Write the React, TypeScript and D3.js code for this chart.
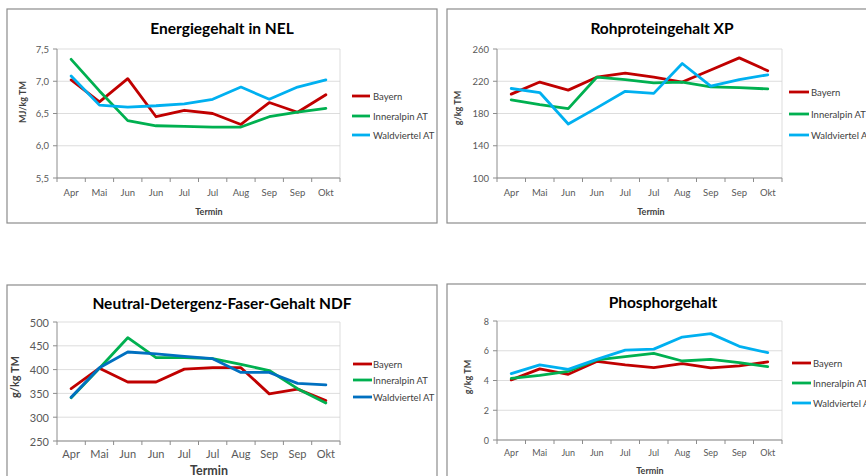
import React from "react";
import * as d3 from "d3";

// ==========================
// Data
// ==========================
const termine = ["Apr", "Mai", "Jun", "Jun", "Jul", "Jul", "Aug", "Sep", "Sep", "Okt"];
const seriesNames = ["Bayern", "Inneralpin AT", "Waldviertel AT"];

const nelBayern = [7.02, 6.68, 7.04, 6.45, 6.55, 6.5, 6.33, 6.67, 6.52, 6.79];
const nelInneralpin = [7.34, 6.85, 6.39, 6.31, 6.3, 6.29, 6.29, 6.45, 6.52, 6.58];
const nelWaldviertel = [7.08, 6.63, 6.6, 6.62, 6.65, 6.72, 6.91, 6.72, 6.91, 7.02];

const xpBayern = [204, 219, 209, 225, 230, 225, 219, 234, 249, 233];
const xpInneralpin = [197, 191, 186, 225, 222, 218, 219, 213, 212, 210.5];
const xpWaldviertel = [211, 206, 167, 187, 207.5, 205, 242, 214, 222, 228];

const ndfBayern = [360, 403, 374, 374, 401, 404, 404, 349, 359, 335];
const ndfInneralpin = [341, 403, 467, 425, 425, 423, 411, 398, 360, 330];
const ndfWaldviertel = [342, 404, 437, 433, 428, 423, 394, 394, 371, 368];

const pBayern = [4.04, 4.78, 4.42, 5.28, 5.05, 4.87, 5.14, 4.85, 4.98, 5.25];
const pInneralpin = [4.15, 4.35, 4.62, 5.38, 5.6, 5.83, 5.31, 5.42, 5.2, 4.93];
const pWaldviertel = [4.46, 5.05, 4.75, 5.42, 6.04, 6.11, 6.92, 7.15, 6.3, 5.87];

const nelTicks = [5.5, 6.0, 6.5, 7.0, 7.5];
const xpTicks = [100, 140, 180, 220, 260];
const ndfTicks = [250, 300, 350, 400, 450, 500];
const pTicks = [0, 2, 4, 6, 8];

const FONT = "Lato, 'Open Sans', sans-serif";
const RED = "#c00000";
const GREEN = "#00b050";
const LIGHTBLUE = "#00b0f0";
const DARKBLUE = "#0070c0";

type PanelProps = {
  title: string;
  yLabel: string;
  series: number[][];
  colors: string[];
  ticks: number[];
  comma?: boolean;
  box: { x: number; y: number; w: number; h: number };
  plot: { l: number; r: number; t: number; b: number };
  titlePos: [number, number];
  tickSize: number;
  xLabelY: number;
  termin: [number, number, number];
  yLabelPos: [number, number, number];
  legend: { x1: number; x2: number; tx: number; rows: number[] };
};

function Panel(p: PanelProps) {
  const { plot } = p;
  const x = d3.scaleBand<number>()
    .domain(termine.map((_, i) => i))
    .range([plot.l, plot.r]);
  const y = d3.scaleLinear()
    .domain([p.ticks[0], p.ticks[p.ticks.length - 1]])
    .range([plot.b, plot.t]);
  const fmt = (v: number) => (p.comma ? d3.format(".1f")(v).replace(".", ",") : String(v));
  const line = d3.line<number>()
    .x((_, i) => x(i)! + x.bandwidth() / 2)
    .y(v => y(v));

  return (
    <g>
      <rect x={p.box.x} y={p.box.y} width={p.box.w} height={p.box.h}
        fill="#fff" stroke="#8c8c8c" strokeWidth={1.2} />

      {/* grid */}
      {p.ticks.map(t => (
        <line key={t} x1={plot.l} x2={plot.r} y1={y(t)} y2={y(t)}
          stroke="#d4d4d4" strokeWidth={0.8} />
      ))}
      <line x1={plot.r} x2={plot.r} y1={plot.t} y2={plot.b} stroke="#d4d4d4" strokeWidth={0.8} />

      {/* axes */}
      <line x1={plot.l} x2={plot.l} y1={plot.t} y2={plot.b} stroke="#8c8c8c" />
      <line x1={plot.l} x2={plot.r} y1={plot.b} y2={plot.b} stroke="#8c8c8c" />
      {p.ticks.map(t => (
        <g key={"yt" + t}>
          <line x1={plot.l - 4} x2={plot.l} y1={y(t)} y2={y(t)} stroke="#8c8c8c" />
          <text x={plot.l - 8} y={y(t)} textAnchor="end" dominantBaseline="central"
            fontSize={p.tickSize} fill="#595959">{fmt(t)}</text>
        </g>
      ))}
      {termine.map((m, i) => (
        <g key={"xt" + i}>
          <line x1={x(i)!} x2={x(i)!} y1={plot.b} y2={plot.b + 4} stroke="#8c8c8c" />
          <text x={x(i)! + x.bandwidth() / 2} y={p.xLabelY} textAnchor="middle"
            dominantBaseline="central" fontSize={p.tickSize} fill="#595959">{m}</text>
        </g>
      ))}
      <line x1={plot.r} x2={plot.r} y1={plot.b} y2={plot.b + 4} stroke="#8c8c8c" />

      {/* series */}
      {p.series.map((s, k) => (
        <path key={k} d={line(s)!} fill="none" stroke={p.colors[k]} strokeWidth={2.8}
          strokeLinejoin="round" strokeLinecap="round" />
      ))}

      {/* titles */}
      <text x={p.titlePos[0]} y={p.titlePos[1]} textAnchor="middle" dominantBaseline="central"
        fontSize={15.5} fontWeight="bold" fill="#000">{p.title}</text>
      <text x={p.termin[0]} y={p.termin[1]} textAnchor="middle" dominantBaseline="central"
        fontSize={p.termin[2]} fontWeight="bold" fill="#404040">Termin</text>
      <text transform={`translate(${p.yLabelPos[0]},${p.yLabelPos[1]}) rotate(-90)`}
        textAnchor="middle" dominantBaseline="central" fontSize={p.yLabelPos[2]}
        fontWeight="bold" fill="#404040">{p.yLabel}</text>

      {/* legend */}
      {seriesNames.map((n, k) => (
        <g key={n}>
          <line x1={p.legend.x1} x2={p.legend.x2} y1={p.legend.rows[k]} y2={p.legend.rows[k]}
            stroke={p.colors[k]} strokeWidth={2.8} />
          <text x={p.legend.tx} y={p.legend.rows[k]} dominantBaseline="central"
            fontSize={9.5} fill="#404040">{n}</text>
        </g>
      ))}
    </g>
  );
}

export default function App() {
  return (
    <svg width={866} height={476} style={{ position: "absolute", left: 0, top: 0, fontFamily: FONT }}>
      <rect width={866} height={476} fill="#fff" />
      <Panel
        title="Energiegehalt in NEL"
        yLabel="MJ/kg TM"
        series={[nelBayern, nelInneralpin, nelWaldviertel]}
        colors={[RED, GREEN, LIGHTBLUE]}
        ticks={nelTicks}
        comma
        box={{ x: 7, y: 9, w: 430, h: 214 }}
        plot={{ l: 57, r: 340, t: 49, b: 178 }}
        titlePos={[222, 28]}
        tickSize={9.5}
        xLabelY={192}
        termin={[209, 211, 9]}
        yLabelPos={[22, 102, 9]}
        legend={{ x1: 352, x2: 370, tx: 373, rows: [96, 116, 135] }}
      />
      <Panel
        title="Rohproteingehalt XP"
        yLabel="g/kg TM"
        series={[xpBayern, xpInneralpin, xpWaldviertel]}
        colors={[RED, GREEN, LIGHTBLUE]}
        ticks={xpTicks}
        box={{ x: 447, y: 9, w: 440, h: 214 }}
        plot={{ l: 497, r: 782, t: 49, b: 178 }}
        titlePos={[662, 28]}
        tickSize={9.5}
        xLabelY={192}
        termin={[651, 211, 9]}
        yLabelPos={[457, 108, 9]}
        legend={{ x1: 789, x2: 809, tx: 811, rows: [92, 114, 135] }}
      />
      <Panel
        title="Neutral-Detergenz-Faser-Gehalt NDF"
        yLabel="g/kg TM"
        series={[ndfBayern, ndfInneralpin, ndfWaldviertel]}
        colors={[RED, GREEN, DARKBLUE]}
        ticks={ndfTicks}
        box={{ x: 7, y: 285, w: 430, h: 210 }}
        plot={{ l: 57, r: 340, t: 322, b: 441 }}
        titlePos={[222, 303]}
        tickSize={11}
        xLabelY={453}
        termin={[209, 470, 12.5]}
        yLabelPos={[14, 377, 11]}
        legend={{ x1: 353, x2: 372, tx: 373, rows: [364, 380, 397] }}
      />
      <Panel
        title="Phosphorgehalt"
        yLabel="g/kg TM"
        series={[pBayern, pInneralpin, pWaldviertel]}
        colors={[RED, GREEN, LIGHTBLUE]}
        ticks={pTicks}
        box={{ x: 447, y: 284, w: 440, h: 210 }}
        plot={{ l: 497, r: 782, t: 321, b: 440 }}
        titlePos={[663, 302]}
        tickSize={9}
        xLabelY={452}
        termin={[650, 470, 9]}
        yLabelPos={[467, 377, 9]}
        legend={{ x1: 792, x2: 811, tx: 813, rows: [363, 383, 403] }}
      />
    </svg>
  );
}
